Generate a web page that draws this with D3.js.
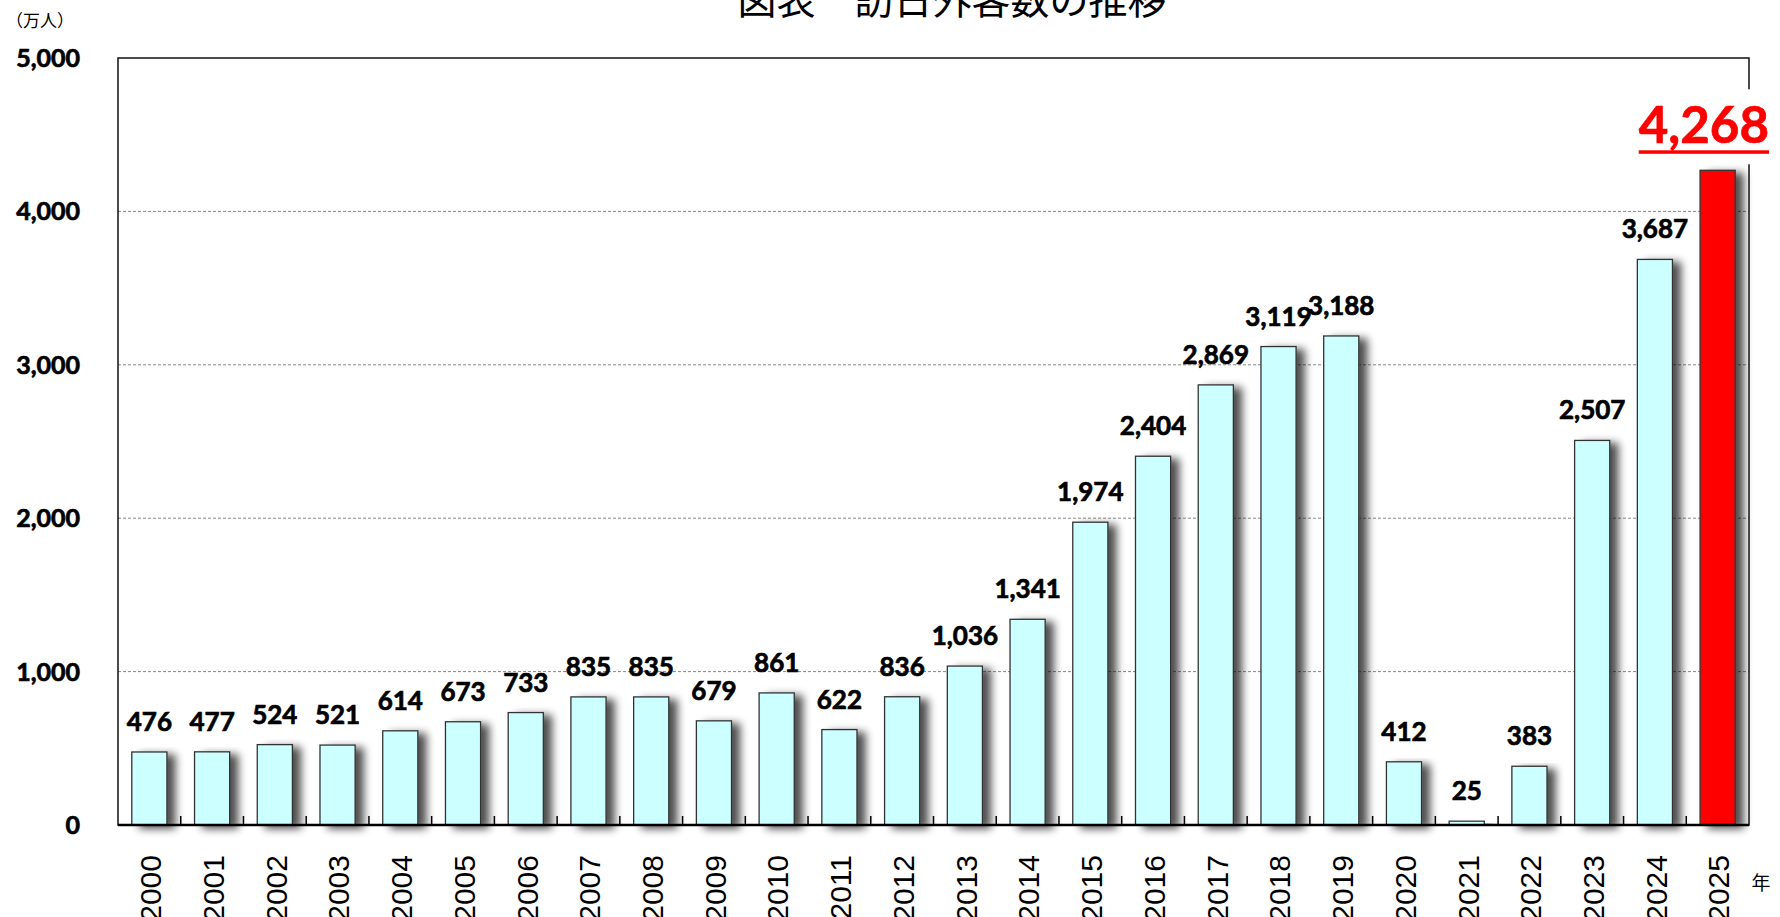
<!DOCTYPE html>
<html lang="ja">
<head>
<meta charset="utf-8">
<script src="https://cdn.jsdelivr.net/npm/d3@7"></script>
<style>
    html, body { margin: 0; padding: 0; background: #fff; }
    svg { display: block; }
    .num { font-family: Lato, sans-serif; font-weight: bold; stroke: currentColor; stroke-width: 0.7px; }
</style>
</head>
<body>
<svg id="chart" width="1780" height="917"></svg>
<script>
// --- DATA ---
const years = ["2000","2001","2002","2003","2004","2005","2006","2007","2008","2009",
               "2010","2011","2012","2013","2014","2015","2016","2017","2018","2019",
               "2020","2021","2022","2023","2024","2025"];
const visitors = [476, 477, 524, 521, 614, 673, 733, 835, 835, 679,
                  861, 622, 836, 1036, 1341, 1974, 2404, 2869, 3119, 3188,
                  412, 25, 383, 2507, 3687, 4268];
const yTicks = [0, 1000, 2000, 3000, 4000, 5000];
const highlightYear = "2025";
const titleText = "図表　訪日外客数の推移";
const unitText = "（万人）";
const yearUnitText = "年";

document.addEventListener("DOMContentLoaded", () => {
    drawChart();
});

function drawChart() {
    const svg = d3.select("#chart");
    const left = 118, right = 1749, top = 58, bottom = 825;
    const fmt = d3.format(",");

    const x = d3.scaleBand()
        .domain(years)
        .range([left, right])
        .paddingInner(0.44)
        .paddingOuter(0.22);

    const y = d3.scaleLinear().domain([0, 5000]).range([bottom, top]);

    // shadow filter for bars
    const defs = svg.append("defs");
    const f = defs.append("filter").attr("id", "barShadow")
        .attr("x", "-20%").attr("y", "-10%").attr("width", "180%").attr("height", "130%");
    f.append("feGaussianBlur").attr("in", "SourceAlpha").attr("stdDeviation", 4.5).attr("result", "blur");
    f.append("feOffset").attr("in", "blur").attr("dx", 8).attr("dy", 3).attr("result", "off");
    f.append("feComponentTransfer").attr("in", "off").attr("result", "shadow")
        .append("feFuncA").attr("type", "linear").attr("slope", 0.7);
    const merge = f.append("feMerge");
    merge.append("feMergeNode").attr("in", "shadow");
    merge.append("feMergeNode").attr("in", "SourceGraphic");

    // title (cut off at the top, as in the source image)
    svg.append("text")
        .attr("x", 952).attr("y", 14)
        .attr("text-anchor", "middle")
        .style("font-family", "'Noto Sans CJK JP', sans-serif")
        .style("font-size", "39px")
        .attr("fill", "#000")
        .text(titleText);

    svg.append("text")
        .attr("x", 6).attr("y", 27)
        .style("font-family", "'Noto Sans CJK JP', sans-serif")
        .style("font-size", "17px")
        .text(unitText);

    // gridlines
    svg.append("g").selectAll("line")
        .data(yTicks.filter(d => d > 0 && d < 5000))
        .enter().append("line")
        .attr("x1", left).attr("x2", right)
        .attr("y1", d => y(d)).attr("y2", d => y(d))
        .attr("stroke", "#888")
        .attr("stroke-width", 1)
        .attr("stroke-dasharray", "3,2");

    // y labels
    svg.append("g").selectAll("text")
        .data(yTicks)
        .enter().append("text")
        .attr("class", "num")
        .attr("x", 80)
        .attr("y", d => y(d))
        .attr("dy", "0.36em")
        .attr("text-anchor", "end")
        .style("font-size", "25px")
        .style("color", "#000")
        .text(d => fmt(d));

    // bars
    const data = years.map((yr, i) => ({ year: yr, v: visitors[i] }));
    svg.append("g").selectAll("rect")
        .data(data)
        .enter().append("rect")
        .attr("x", d => x(d.year))
        .attr("y", d => y(d.v))
        .attr("width", x.bandwidth())
        .attr("height", d => bottom - y(d.v))
        .attr("fill", d => d.year === highlightYear ? "#ff0000" : "#ccffff")
        .attr("stroke", "#333")
        .attr("stroke-width", 1.3)
        .attr("filter", "url(#barShadow)");

    // plot frame
    svg.append("rect")
        .attr("x", left).attr("y", top)
        .attr("width", right - left).attr("height", bottom - top)
        .attr("fill", "none")
        .attr("stroke", "#111")
        .attr("stroke-width", 1.5);
    svg.append("line")
        .attr("x1", left).attr("x2", right)
        .attr("y1", bottom).attr("y2", bottom)
        .attr("stroke", "#000").attr("stroke-width", 2.5);

    // category boundary ticks (inside, upward)
    const step = x.step();
    svg.append("g").selectAll("line")
        .data(years.slice(1))
        .enter().append("line")
        .attr("x1", d => x(d) - (step - x.bandwidth()) / 2)
        .attr("x2", d => x(d) - (step - x.bandwidth()) / 2)
        .attr("y1", bottom).attr("y2", bottom - 9)
        .attr("stroke", "#000").attr("stroke-width", 1.5);

    // x labels (rotated)
    svg.append("g").selectAll("text")
        .data(years)
        .enter().append("text")
        .attr("transform", d => `translate(${x(d) + x.bandwidth() / 2 + 1},855) rotate(-90)`)
        .attr("dy", "0.36em")
        .attr("text-anchor", "end")
        .style("font-family", "'Liberation Sans', Arial, sans-serif")
        .style("font-size", "30px")
        .text(d => d);

    svg.append("text")
        .attr("x", 1761).attr("y", 890)
        .attr("text-anchor", "middle")
        .style("font-family", "'Noto Sans CJK JP', sans-serif")
        .style("font-size", "19px")
        .text(yearUnitText);

    // value labels
    svg.append("g").selectAll("text")
        .data(data.filter(d => d.year !== highlightYear))
        .enter().append("text")
        .attr("class", "num")
        .attr("x", d => x(d.year) + x.bandwidth() / 2)
        .attr("y", d => y(d.v) - 21)
        .attr("text-anchor", "middle")
        .style("font-size", "26px")
        .style("color", "#000")
        .attr("fill", "#000")
        .text(d => fmt(d.v));

    // highlighted value label (big, red, underlined)
    const hl = data.find(d => d.year === highlightYear);
    const hg = svg.append("g");
    const bg = hg.append("rect").attr("fill", "#fff");
    const ht = hg.append("text")
        .attr("class", "num")
        .attr("x", 1769)
        .attr("y", y(hl.v) - 27)
        .attr("text-anchor", "end")
        .style("font-size", "51px")
        .style("color", "#ff0000")
        .attr("fill", "#ff0000")
        .text(fmt(hl.v));
    const bb = ht.node().getBBox();
    bg.attr("x", bb.x - 4).attr("y", bb.y - 4)
        .attr("width", bb.width + 8).attr("height", bb.height + 14);
    hg.append("rect")
        .attr("x", bb.x).attr("width", bb.width)
        .attr("y", y(hl.v) - 27 + 7).attr("height", 3.5)
        .attr("fill", "#ff0000");
}
</script>
</body>
</html>
